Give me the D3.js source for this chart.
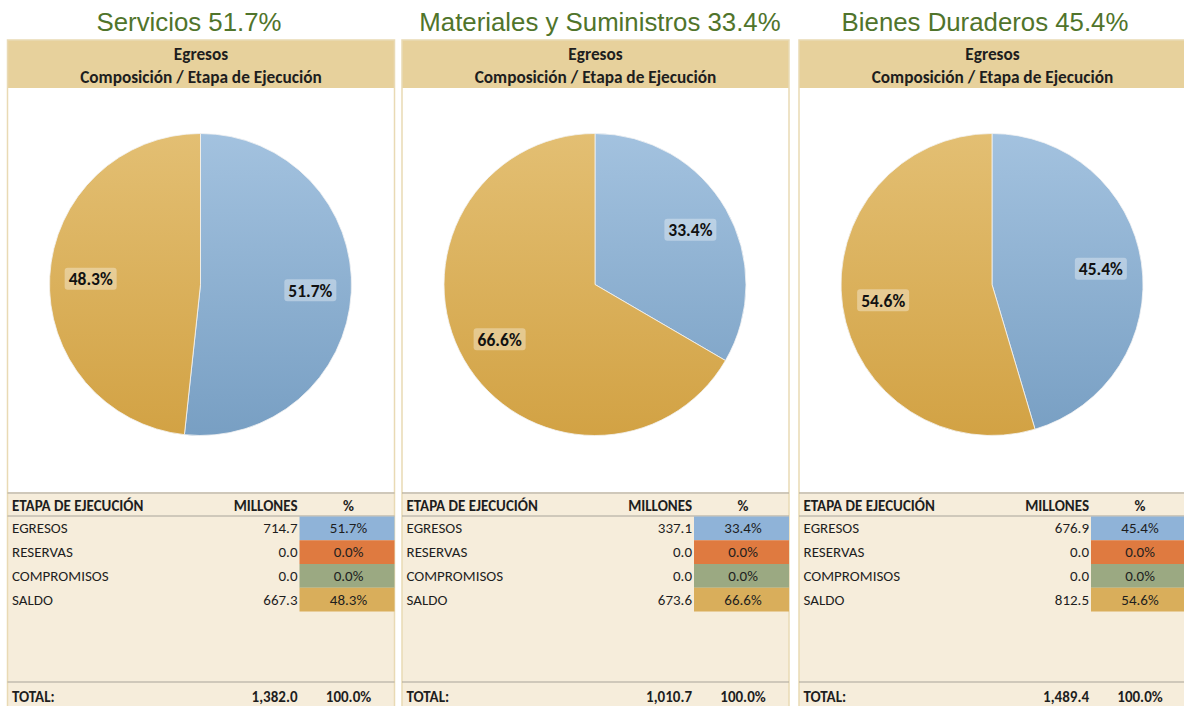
<!DOCTYPE html>
<html lang="es">
  <head>
    <meta charset="UTF-8" />
    <title>Egresos - Composición / Etapa de Ejecución</title>
    <script src="https://d3js.org/d3.v7.min.js"></script>
    <style>
      body { margin: 0; background: #fff; }
      svg { display: block; }
      .titulo { font-family: "Liberation Sans", Arial, sans-serif; font-size: 25.8px; fill: #50742b; }
      .cab { font-family: Carlito, Lato, sans-serif; font-weight: bold; font-size: 17.3px; fill: #1e1e1e; }
      .tabla { font-family: Carlito, Lato, sans-serif; font-size: 15px; fill: #1e1e1e; }
      .tabla.b { font-weight: bold; }
      .etiqueta { font-family: Carlito, Lato, sans-serif; font-weight: bold; font-size: 17.5px; fill: #111; }
    </style>
  </head>
  <body>
    <div id="chart"></div>
    <script>
      // datos de los tres paneles
      const titulos = ["Servicios 51.7%", "Materiales y Suministros 33.4%", "Bienes Duraderos 45.4%"];
      const etapas = ["EGRESOS", "RESERVAS", "COMPROMISOS", "SALDO"];
      const millones = [
        [714.7, 0.0, 0.0, 667.3],
        [337.1, 0.0, 0.0, 673.6],
        [676.9, 0.0, 0.0, 812.5],
      ];
      const porcentajes = [
        [51.7, 0.0, 0.0, 48.3],
        [33.4, 0.0, 0.0, 66.6],
        [45.4, 0.0, 0.0, 54.6],
      ];
      const totales = [1382.0, 1010.7, 1489.4];

      const width = 1184;
      const height = 706;
      const panelX = [7.5, 402, 799];
      const tituloX = [189, 600, 985];
      const panelW = 387;
      const cabTop = 40, cabBot = 88, tablaTop = 492;
      const radio = 151;

      const colores = ["#8fb3d8", "#df7a40", "#9ba982", "#d9ae5b"];
      const degradados = [
        ["#a3c2df", "#789fc3"],
        ["#e58a55", "#d46c32"],
        ["#a6b38e", "#8f9e77"],
        ["#e3bf73", "#d2a244"],
      ];

      const svg = d3.select("#chart").append("svg").attr("width", width).attr("height", height);
      const defs = svg.append("defs");

      degradados.forEach((g, i) => {
        const lg = defs.append("linearGradient")
          .attr("id", `grad-${i}`)
          .attr("gradientUnits", "userSpaceOnUse")
          .attr("x1", 0).attr("x2", 0).attr("y1", -radio).attr("y2", radio);
        lg.append("stop").attr("offset", "0%").attr("stop-color", g[0]);
        lg.append("stop").attr("offset", "100%").attr("stop-color", g[1]);
      });

      const pie = d3.pie().sort(null).value((d) => d);
      const arc = d3.arc().innerRadius(0).outerRadius(radio);
      const arcEtiqueta = d3.arc().innerRadius(110).outerRadius(110);
      const fmt = d3.format(",.1f");

      function dibujarPanel(p) {
        const g = svg.append("g").attr("transform", `translate(${panelX[p]},0)`);

        // titulo
        svg.append("text").attr("class", "titulo")
          .attr("x", tituloX[p]).attr("y", 30.5)
          .attr("text-anchor", "middle")
          .text(titulos[p]);

        // cabecera
        g.append("rect").attr("x", 0).attr("y", cabTop).attr("width", panelW).attr("height", cabBot - cabTop)
          .attr("fill", "#e7d19c");
        g.append("text").attr("class", "cab").attr("x", panelW / 2).attr("y", 59.5)
          .attr("text-anchor", "middle").text("Egresos");
        g.append("text").attr("class", "cab").attr("x", panelW / 2).attr("y", 82.5)
          .attr("text-anchor", "middle").text("Composición / Etapa de Ejecución");

        // area del grafico
        g.append("rect").attr("x", 0).attr("y", cabBot).attr("width", panelW).attr("height", tablaTop - cabBot)
          .attr("fill", "#fff");

        // tabla
        g.append("rect").attr("x", 0).attr("y", tablaTop).attr("width", panelW).attr("height", height - tablaTop)
          .attr("fill", "#f6eddb");

        // borde del panel
        g.append("rect").attr("x", 0).attr("y", cabTop).attr("width", panelW).attr("height", height - cabTop + 2)
          .attr("fill", "none").attr("stroke", "#e9dab4").attr("stroke-width", 1.5);

        const pieG = g.append("g").attr("transform", `translate(${193},${284.5})`);
        const arcos = pie(porcentajes[p]);
        pieG.selectAll("path").data(arcos).join("path")
          .attr("d", arc)
          .attr("fill", (d, i) => `url(#grad-${i})`)
          .attr("stroke", (d) => (d.value > 0 ? "#f4f4f4" : "none"))
          .attr("stroke-width", 0.8);

        const et = pieG.selectAll("g.et").data(arcos.filter((d) => d.value > 0)).join("g")
          .attr("class", "et")
          .attr("transform", (d) => `translate(${arcEtiqueta.centroid(d)})`);
        et.append("rect").attr("x", -26).attr("y", -11).attr("width", 52).attr("height", 22).attr("rx", 3)
          .attr("fill", "rgba(255,255,255,0.35)");
        et.append("text").attr("class", "etiqueta").attr("text-anchor", "middle").attr("dy", "0.36em")
          .text((d) => d.value.toFixed(1) + "%");

        // filas de la tabla
        const filaY = d3.scaleBand().domain(etapas).range([516.5, 611.5]);
        const colLabel = 4.5, colMill = 290, colPctX = 292, colPctW = panelW - 292, colPct = 341;

        g.append("line").attr("x1", 0).attr("x2", panelW).attr("y1", tablaTop + 1).attr("y2", tablaTop + 1)
          .attr("stroke", "#a8a49a").attr("stroke-width", 1.2);
        g.append("line").attr("x1", 0).attr("x2", panelW).attr("y1", 516).attr("y2", 516)
          .attr("stroke", "#a8a49a").attr("stroke-width", 1);
        g.append("line").attr("x1", 0).attr("x2", panelW).attr("y1", 682).attr("y2", 682)
          .attr("stroke", "#a8a49a").attr("stroke-width", 1.2);

        g.append("text").attr("class", "tabla b").attr("x", colLabel).attr("y", 511).text("ETAPA DE EJECUCIÓN");
        g.append("text").attr("class", "tabla b").attr("x", colMill).attr("y", 511).attr("text-anchor", "end").text("MILLONES");
        g.append("text").attr("class", "tabla b").attr("x", colPct).attr("y", 511).attr("text-anchor", "middle").text("%");

        etapas.forEach((e, i) => {
          const y = filaY(e);
          const h = filaY.bandwidth();
          g.append("rect").attr("x", colPctX).attr("y", y).attr("width", colPctW).attr("height", h)
            .attr("fill", colores[i]);
          g.append("text").attr("class", "tabla").attr("x", colLabel).attr("y", y + h / 2 + 5).text(e);
          g.append("text").attr("class", "tabla").attr("x", colMill).attr("y", y + h / 2 + 5)
            .attr("text-anchor", "end").text(fmt(millones[p][i]));
          g.append("text").attr("class", "tabla").attr("x", colPct).attr("y", y + h / 2 + 5)
            .attr("text-anchor", "middle").text(porcentajes[p][i].toFixed(1) + "%");
        });

        g.append("text").attr("class", "tabla b").attr("x", colLabel).attr("y", 702).text("TOTAL:");
        g.append("text").attr("class", "tabla b").attr("x", colMill).attr("y", 702).attr("text-anchor", "end").text(fmt(totales[p]));
        g.append("text").attr("class", "tabla b").attr("x", colPct).attr("y", 702).attr("text-anchor", "middle").text("100.0%");
      }

      [0, 1, 2].forEach(dibujarPanel);
    </script>
  </body>
</html>
